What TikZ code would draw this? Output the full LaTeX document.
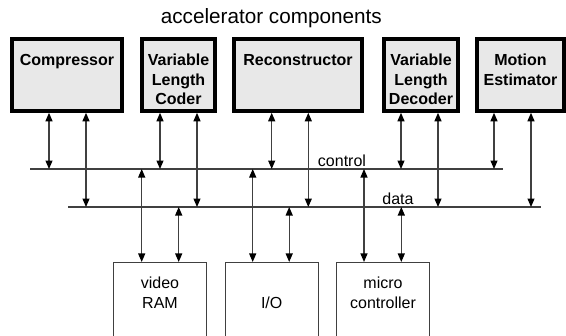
\documentclass[tikz,border=0pt]{standalone}
\usepackage{fontspec}
\setmainfont{Liberation Sans}
\usetikzlibrary{arrows.meta}
\definecolor{boxgray}{HTML}{E8E8E8}
\definecolor{wire}{HTML}{404040}
\tikzset{
  topbox/.style={draw=black, line width=3.6bp, fill=boxgray, minimum height=72bp, inner sep=0pt},
  lowbox/.style={draw=wire, line width=1.1bp, fill=white, minimum width=93bp, minimum height=84bp, inner sep=0pt},
  toplbl/.style={anchor=north, inner sep=0pt, align=center, font=\fontsize{16bp}{19.5bp}\selectfont\bfseries},
  lowlbl/.style={anchor=north, inner sep=0pt, align=center, font=\fontsize{16bp}{20bp}\selectfont},
  buslbl/.style={anchor=base, inner sep=0pt, font=\fontsize{16bp}{20bp}\selectfont},
  bus/.style={draw=wire, line width=1.2bp},
  tip/.style={Triangle[width=7bp,length=8.5bp,color=black,fill=black]},
  bi/.style={draw=wire, line width=1.2bp, {Triangle[width=7bp,length=8.5bp,color=black,fill=black]}-{Triangle[width=7bp,length=8.5bp,color=black,fill=black]}}
}
\begin{document}
\begin{tikzpicture}[x=1bp,y=-1bp]
\useasboundingbox (0,0) rectangle (566,335);
\clip (0,0) rectangle (566,335);

% title
\node[anchor=base, inner sep=0pt, font=\fontsize{20.7bp}{24bp}\selectfont] (title) at (271.3,23.3) {accelerator components};

% accelerator blocks
\node[topbox, minimum width=110bp] (comp)  at (67,75)    {};
\node[topbox, minimum width=73bp]  (vlc)   at (178.5,75) {};
\node[topbox, minimum width=128bp] (recon) at (298,75)   {};
\node[topbox, minimum width=74bp]  (vld)   at (421,75)   {};
\node[topbox, minimum width=87bp]  (me)    at (520.5,75) {};

\node[toplbl] (compT)  at (67,54)    {Compressor};
\node[toplbl] (vlcT)   at (178.5,54) {Variable\\Length\\Coder};
\node[toplbl] (reconT) at (298,54)   {Reconstructor};
\node[toplbl] (vldT)   at (421,54)   {Variable\\Length\\Decoder};
\node[toplbl] (meT)    at (520.5,54) {Motion\\Estimator};

% buses
\coordinate (ctrlL) at (30,169);
\coordinate (ctrlR) at (503,169);
\coordinate (dataL) at (68,207);
\coordinate (dataR) at (540.5,207);
\draw[bus] (ctrlL) -- (ctrlR);
\draw[bus] (dataL) -- (dataR);
\node[buslbl] (ctrlT) at (342,166.5) {control};
\node[buslbl] (dataT) at (398,204.3) {data};

% shared blocks
\node[lowbox] (vram) at (160,304.5)   {};
\node[lowbox] (io)   at (271.7,304.5) {};
\node[lowbox] (mc)   at (383,304.5)   {};
\node[lowlbl] (vramT) at (160,276.6)   {video\\RAM};
\node[lowlbl] (ioT)   at (271.7,296.6) {I/O};
\node[lowlbl] (mcT)   at (383,276.6)   {micro\\controller};

% block <-> bus links
\draw[bi] ([xshift=-18bp]comp.south)   -- ([xshift=-18bp]comp.south |- ctrlL);
\draw[bi] ([xshift=19bp]comp.south)    -- ([xshift=19bp]comp.south |- dataL);
\draw[bi] ([xshift=-18.5bp]vlc.south)  -- ([xshift=-18.5bp]vlc.south |- ctrlL);
\draw[bi] ([xshift=18.5bp]vlc.south)   -- ([xshift=18.5bp]vlc.south |- dataL);
\draw[bi] ([xshift=-26.3bp]recon.south) -- ([xshift=-26.3bp]recon.south |- ctrlL);
\draw[bi] ([xshift=10.3bp]recon.south) -- ([xshift=10.3bp]recon.south |- dataL);
\draw[bi] ([xshift=-20bp]vld.south)    -- ([xshift=-20bp]vld.south |- ctrlL);
\draw[bi] ([xshift=17bp]vld.south)     -- ([xshift=17bp]vld.south |- dataL);
\draw[bi] ([xshift=-26.5bp]me.south)   -- ([xshift=-26.5bp]me.south |- ctrlL);
\draw[bi] ([xshift=10.5bp]me.south)    -- ([xshift=10.5bp]me.south |- dataL);

\draw[bi] ([xshift=-18.3bp]vram.north) -- ([xshift=-18.3bp]vram.north |- ctrlL);
\draw[bi] ([xshift=18.7bp]vram.north)  -- ([xshift=18.7bp]vram.north |- dataL);
\draw[bi] ([xshift=-19bp]io.north)     -- ([xshift=-19bp]io.north |- ctrlL);
\draw[bi] ([xshift=17.5bp]io.north)    -- ([xshift=17.5bp]io.north |- dataL);
\draw[bi] ([xshift=-19bp]mc.north)     -- ([xshift=-19bp]mc.north |- ctrlL);
\draw[bi] ([xshift=18.3bp]mc.north)    -- ([xshift=18.3bp]mc.north |- dataL);
\end{tikzpicture}
\end{document}
